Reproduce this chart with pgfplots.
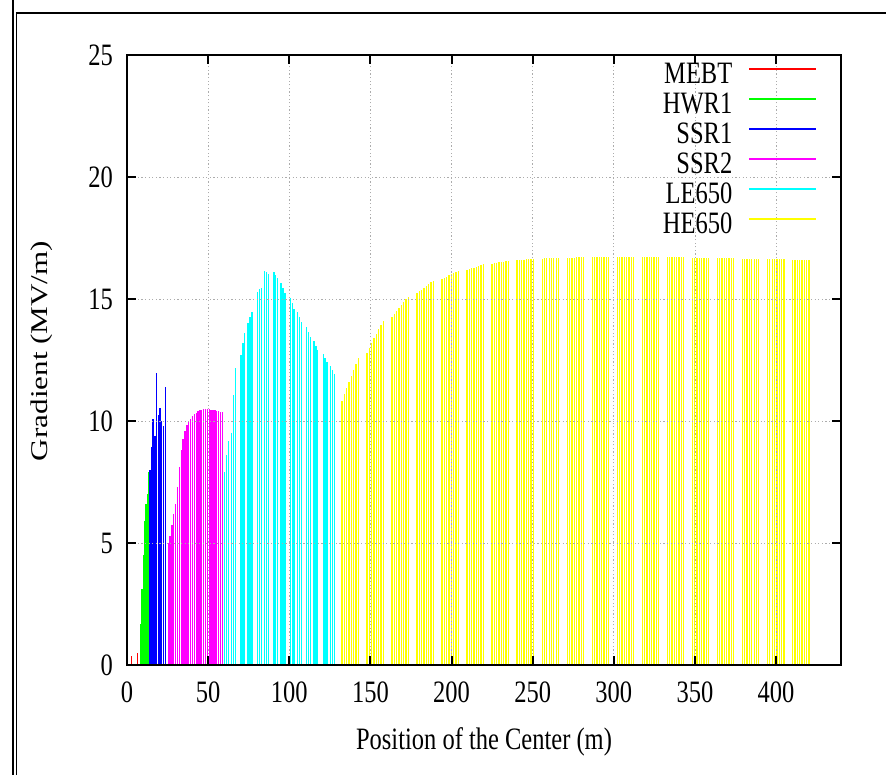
\documentclass[border=0pt]{standalone}
\usepackage{fontspec}
\setmainfont{Liberation Serif}
\usepackage{pgfplots}
\pgfplotsset{compat=1.18}
\definecolor{gpred}{rgb}{1,0,0}
\definecolor{gpgreen}{rgb}{0,1,0}
\definecolor{gpblue}{rgb}{0,0,1}
\definecolor{gpmag}{rgb}{1,0,1}
\definecolor{gpcyan}{rgb}{0,1,1}
\definecolor{gpyel}{rgb}{1,1,0}
\newcommand{\bigf}{\fontsize{24.5}{29}\selectfont}
\newcommand{\vs}[1]{\scalebox{1}[1.27]{#1}}
\begin{document}
\begin{tikzpicture}
\useasboundingbox (-127pt,-110pt) rectangle (759pt,665pt);
\draw[line width=2pt] (-113.5pt,-115pt) -- (-113.5pt,670pt);
\draw[line width=1.2pt] (-110.5pt,-115pt) -- (-110.5pt,652pt) -- (765pt,652pt);
\begin{axis}[
  scale only axis, width=714pt, height=610pt,
  xmin=0, xmax=440, ymin=0, ymax=25,
  xtick={0,50,...,400}, ytick={0,5,...,25},
  xticklabels={\vs{0},\vs{50},\vs{100},\vs{150},\vs{200},\vs{250},\vs{300},\vs{350},\vs{400}},
  yticklabels={\vs{0},\vs{5},\vs{10},\vs{15},\vs{20},\vs{25}},
  axis on top,
  grid=major,
  major grid style={gray!65, dash pattern=on 1.2pt off 2.4pt, line width=0.8pt},
  axis line style={line width=2.6pt},
  tick style={black, line width=2pt},
  major tick length=9pt,
  tick align=inside,
  ticklabel style={font=\bigf},
  xticklabel style={anchor=center, yshift=-27pt},
  yticklabel style={anchor=east, xshift=-14pt, inner sep=0pt},
  every axis x label/.style={at={(axis description cs:0.5,0)}, yshift=-77pt, anchor=center, font=\bigf},
  every axis y label/.style={at={(axis description cs:0,0.5)}, xshift=-85pt, yshift=9pt, rotate=90, anchor=center, font=\bigf},
  xlabel={\vs{Position of the Center (m)}},
  ylabel={\scalebox{1.27}[0.98]{Gradient (MV/m)}},
  legend plot pos=right,
  legend cell align=right,
  legend image code/.code={\draw[#1, line width=1.5pt] (0pt,7pt) -- (67pt,7pt);},
  legend style={draw=none, fill=none, at={(1,1)}, anchor=north east, xshift=-24pt, yshift=-8pt,
    inner sep=0pt, row sep=4pt, column sep=16pt, font=\bigf,
    nodes={inner sep=0pt, text height=20pt, text depth=6pt}},
  every axis plot/.append style={ycomb, mark=none, line width=1.3pt},
]
% MEBT
\addplot[draw=gpred] coordinates {
(0.5,0.55) (2.9,0.35) (6.5,0.5)};
\addlegendentry{\vs{MEBT}}
% HWR1
\addplot[draw=gpgreen] coordinates {
(8.3,1.7) (9.2,3.1) (10.1,4.5) (11.0,5.9) (11.8,6.6) (12.5,7.0) (13.1,7.9) (13.7,7.9)};
\addlegendentry{\vs{HWR1}}
% SSR1
\addplot[draw=gpblue] coordinates {
(14.1,8.0) (15.1,8.95) (16.1,10.07) (17.2,9.4) (18.2,11.95) (19.2,10.25) (20.3,10.52) (21.3,10.0) (22.5,9.8) (23.6,11.4)};
\addlegendentry{\vs{SSR1}}
% SSR2
\addplot[draw=gpmag] coordinates {
(25.4,5.0) (26.55,5.3) (27.7,5.75) (28.85,6.2) (30.0,6.6) (31.15,7.3) (32.3,8.1) (33.45,8.8)
(34.6,9.25) (35.75,9.6) (36.9,9.85) (38.05,10.0) (39.2,10.1) (40.35,10.2) (41.5,10.28) (42.65,10.34)
(43.8,10.4) (44.95,10.44) (46.1,10.46) (47.25,10.48) (48.4,10.48) (49.55,10.48) (50.7,10.48) (51.85,10.47)
(53.0,10.46) (54.15,10.44) (55.3,10.42) (56.45,10.40) (57.6,10.38) (58.75,10.36)};
\addlegendentry{\vs{SSR2}}
% LE650
\addplot[draw=gpcyan] coordinates {
(60.0,7.9) (61.2,8.6) (62.4,9.2) (64.4,9.5) (65.6,11.05) (66.8,12.17)
(70.2,12.7) (71.4,13.2) (72.6,13.6) (74.6,14.0) (75.8,14.25) (77.0,14.47)
(80.3,15.29) (81.5,15.4) (82.7,15.47) (84.7,16.16) (85.9,16.1) (87.1,16.02)
(90.5,16.12) (91.7,15.98) (92.9,15.85) (94.9,15.64) (96.1,15.46) (97.3,15.26)
(100.6,15.05) (101.8,14.85) (103.0,14.6) (105.0,14.45) (106.2,14.25) (107.4,14.05)
(110.8,13.84) (112.0,13.66) (113.2,13.44) (115.2,13.28) (116.4,13.07) (117.6,12.9)
(120.9,12.73) (122.1,12.57) (123.3,12.42) (125.3,12.25) (126.5,12.09) (127.7,11.91)};
\addlegendentry{\vs{LE650}}
% HE650
\addplot[draw=gpyel] coordinates {
(132.40,10.82) (133.84,11.09) (135.28,11.37) (136.72,11.60) (138.16,11.86) (139.60,12.10) (141.04,12.32) (142.48,12.57)
(147.83,12.77) (149.27,12.98) (150.71,13.18) (152.15,13.39) (153.59,13.57) (155.03,13.76) (156.47,13.92) (157.91,14.09)
(163.26,14.25) (164.70,14.38) (166.14,14.50) (167.58,14.62) (169.02,14.74) (170.46,14.86) (171.90,14.98) (173.34,15.09)
(178.69,15.23) (180.13,15.31) (181.57,15.38) (183.01,15.46) (184.45,15.53) (185.89,15.61) (187.33,15.68) (188.77,15.75)
(194.12,15.82) (195.56,15.87) (197.00,15.92) (198.44,15.97) (199.88,16.02) (201.32,16.07) (202.76,16.12) (204.20,16.16)
(209.55,16.19) (210.99,16.22) (212.43,16.26) (213.87,16.29) (215.31,16.32) (216.75,16.36) (218.19,16.39) (219.63,16.42)
(224.98,16.44) (226.42,16.46) (227.86,16.48) (229.30,16.50) (230.74,16.51) (232.18,16.53) (233.62,16.55) (235.06,16.56)
(240.41,16.58) (241.85,16.59) (243.29,16.60) (244.73,16.61) (246.17,16.62) (247.61,16.63) (249.05,16.64) (250.49,16.64)
(255.84,16.65) (257.28,16.66) (258.72,16.66) (260.16,16.67) (261.60,16.67) (263.04,16.68) (264.48,16.68) (265.92,16.69)
(271.27,16.70) (272.71,16.70) (274.15,16.70) (275.59,16.70) (277.03,16.71) (278.47,16.71) (279.91,16.71) (281.35,16.71)
(286.70,16.72) (288.14,16.72) (289.58,16.72) (291.02,16.72) (292.46,16.72) (293.90,16.72) (295.34,16.72) (296.78,16.72)
(302.13,16.73) (303.57,16.73) (305.01,16.73) (306.45,16.73) (307.89,16.73) (309.33,16.73) (310.77,16.73) (312.21,16.73)
(317.56,16.72) (319.00,16.72) (320.44,16.72) (321.88,16.72) (323.32,16.72) (324.76,16.72) (326.20,16.72) (327.64,16.72)
(332.99,16.71) (334.43,16.71) (335.87,16.71) (337.31,16.71) (338.75,16.71) (340.19,16.71) (341.63,16.71) (343.07,16.71)
(348.42,16.69) (349.86,16.69) (351.30,16.69) (352.74,16.69) (354.18,16.69) (355.62,16.69) (357.06,16.69) (358.50,16.69)
(363.85,16.67) (365.29,16.67) (366.73,16.67) (368.17,16.67) (369.61,16.67) (371.05,16.67) (372.49,16.67) (373.93,16.67)
(379.28,16.64) (380.72,16.64) (382.16,16.64) (383.60,16.64) (385.04,16.64) (386.48,16.64) (387.92,16.64) (389.36,16.64)
(394.71,16.63) (396.15,16.63) (397.59,16.63) (399.03,16.63) (400.47,16.63) (401.91,16.63) (403.35,16.63) (404.79,16.63)
(410.14,16.61) (411.58,16.61) (413.02,16.61) (414.46,16.61) (415.90,16.61) (417.34,16.61) (418.78,16.61) (420.22,16.61)};
\addlegendentry{\vs{HE650}}
\end{axis}
\end{tikzpicture}
\end{document}
